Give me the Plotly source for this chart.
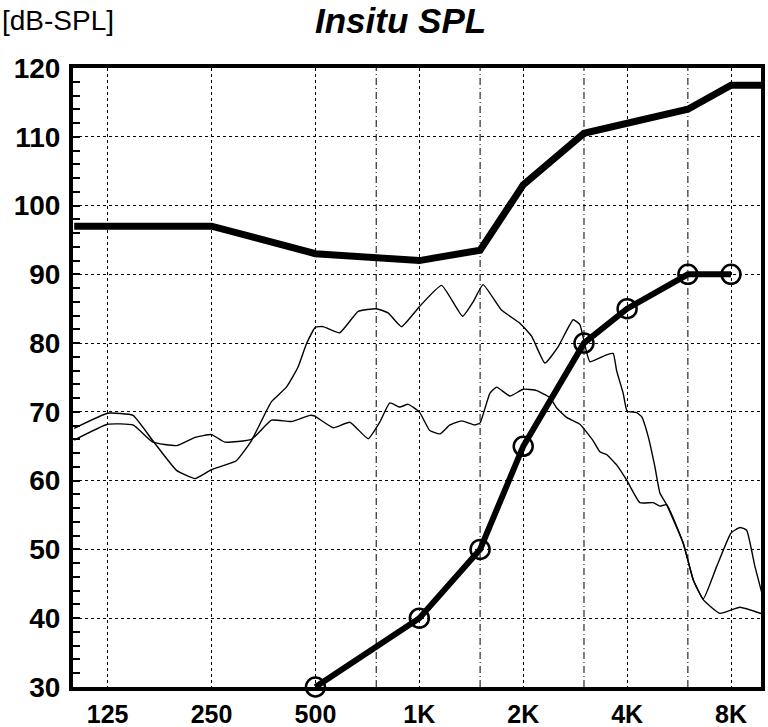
import plotly.graph_objects as go

# ---- data ----
octave_freqs = [125, 250, 500, 1000, 2000, 4000, 8000]
octave_labels = ["125", "250", "500", "1K", "2K", "4K", "8K"]
half_octave_freqs = [750, 1500, 3000, 6000]

mpo_freq = [100, 125, 250, 500, 1000, 1500, 2000, 3000, 4000, 6000, 8000, 10000]
mpo_db = [97, 97, 97, 93, 92, 93.5, 103, 110.5, 112, 114, 117.5, 117.5]

target_freq = [500, 1000, 1500, 2000, 3000, 4000, 6000, 8000]
target_db = [30, 40, 50, 65, 80, 85, 90, 90]

curve_a_freq = [100, 125, 148, 169, 198, 224, 250, 295, 326, 361, 373, 412, 445, 471, 500,
                526, 588, 665, 750, 812, 888, 1000, 1160, 1335, 1432, 1530, 1730, 1956,
                2115, 2311, 2526, 2791, 2919, 3120, 3487, 3645, 3729, 3897, 4000, 4262,
                4407, 4605, 4815, 4978, 5206, 5817, 6217, 6646, 7268, 8000, 8492, 8880,
                9387, 10000]
curve_a_db = [67.6, 69.8, 69.5, 65.8, 61.5, 60.3, 61.6, 62.9, 65.8, 70.2, 71.5, 73.6, 76.5,
              79.9, 82.3, 82.4, 81.5, 84.6, 85.0, 84.4, 82.4, 85.3, 88.4, 83.9, 86.0, 88.5,
              84.8, 82.9, 81.0, 77.1, 79.5, 83.4, 82.7, 77.3, 78.3, 78.5, 76.0, 72.7, 70.1,
              69.9, 69.3, 66.4, 62.0, 58.2, 56.5, 50.9, 45.6, 42.8, 47.5, 52.4, 53.2, 52.8,
              47.5, 42.2]

curve_b_freq = [100, 125, 148, 169, 198, 224, 250, 273, 326, 373, 426, 482, 497, 563, 629,
                711, 768, 821, 878, 928, 1000, 1072, 1147, 1226, 1326, 1449, 1500, 1601,
                1674, 1830, 2000, 2187, 2389, 2498, 2671, 2919, 3190, 3336, 3487, 3729,
                3986, 4356, 4761, 4978, 5206, 5817, 6217, 6646, 7430, 8492, 10000]
curve_b_db = [65.9, 68.2, 68.1, 65.6, 65.1, 66.3, 66.7, 65.6, 66.0, 68.8, 68.6, 69.5, 69.4,
              67.7, 68.5, 66.1, 68.5, 71.3, 70.7, 71.1, 70.0, 67.3, 66.8, 68.1, 68.7, 68.1,
              68.4, 72.7, 73.6, 72.3, 73.3, 73.1, 72.1, 70.6, 69.2, 68.2, 65.8, 64.2, 63.8,
              62.3, 60.1, 56.8, 56.8, 56.3, 56.5, 50.9, 45.6, 42.7, 40.7, 41.6, 40.5]

y_min, y_max = 30, 120
x_log_range = [1.9965, 3.990]

FONT = "Liberation Sans, Arial, sans-serif"

L, R, T, B = 73, 7, 68, 40
W, H = 768, 727
PW, PH = W - L - R, H - T - B

fig = go.Figure()

# half-octave dash-dot grid lines
for f in half_octave_freqs:
    fig.add_trace(go.Scatter(x=[f, f], y=[y_min, y_max], mode="lines",
                             line=dict(color="black", width=1, dash="7px,3px,1px,3px"),
                             hoverinfo="skip", showlegend=False))

fig.add_trace(go.Scatter(x=curve_a_freq, y=curve_a_db, mode="lines",
                         line=dict(color="black", width=1.4, shape="spline", smoothing=0.4),
                         showlegend=False))
fig.add_trace(go.Scatter(x=curve_b_freq, y=curve_b_db, mode="lines",
                         line=dict(color="black", width=1.4, shape="spline", smoothing=0.4),
                         showlegend=False))
fig.add_trace(go.Scatter(x=mpo_freq, y=mpo_db, mode="lines",
                         line=dict(color="black", width=7), showlegend=False))
fig.add_trace(go.Scatter(x=target_freq, y=target_db, mode="lines+markers",
                         line=dict(color="black", width=6),
                         marker=dict(symbol="circle-open", size=19, color="black",
                                     line=dict(width=2.5, color="black")),
                         cliponaxis=False, showlegend=False))

fig.update_layout(
    width=W, height=H,
    margin=dict(l=L, r=R, t=T, b=B, autoexpand=False),
    paper_bgcolor="white", plot_bgcolor="white",
    font=dict(family=FONT, color="black"),
    showlegend=False,
)

fig.update_xaxes(
    type="log", range=x_log_range, automargin=False,
    tickmode="array", tickvals=octave_freqs, ticktext=octave_labels,
    tickfont=dict(family=FONT, size=25, color="black", weight="bold"),
    ticks="", ticklabelstandoff=2,
    showgrid=True, gridcolor="black", gridwidth=1, griddash="dot",
    showline=True, linecolor="black", linewidth=4, mirror=True,
    zeroline=False,
)
fig.update_yaxes(
    range=[y_min, y_max], tickmode="linear", tick0=30, dtick=10, automargin=False,
    tickfont=dict(family=FONT, size=28, color="black", weight="bold"),
    ticks="inside", ticklen=7, tickwidth=2, tickcolor="black",
    minor=dict(ticks="inside", dtick=2, ticklen=7, tickwidth=2, tickcolor="black", showgrid=False),
    ticklabelstandoff=3,
    showgrid=True, gridcolor="black", gridwidth=1, griddash="dot",
    showline=True, linecolor="black", linewidth=4, mirror=True,
    zeroline=False,
)

fig.add_annotation(text="<b><i>Insitu SPL</i></b>", xref="paper", yref="paper",
                   x=(400 - L) / PW, y=1 + (T - 20) / PH, xanchor="center", yanchor="middle",
                   showarrow=False, font=dict(family=FONT, size=35, color="black"))
fig.add_annotation(text="[dB-SPL]", xref="paper", yref="paper",
                   x=(0 - L) / PW, y=1 + (T - 20) / PH, xanchor="left", yanchor="middle",
                   showarrow=False, font=dict(family=FONT, size=28, color="black"))

fig.write_html("out.html", config={"displayModeBar": False},
               post_script="document.body.style.margin='0px';")
